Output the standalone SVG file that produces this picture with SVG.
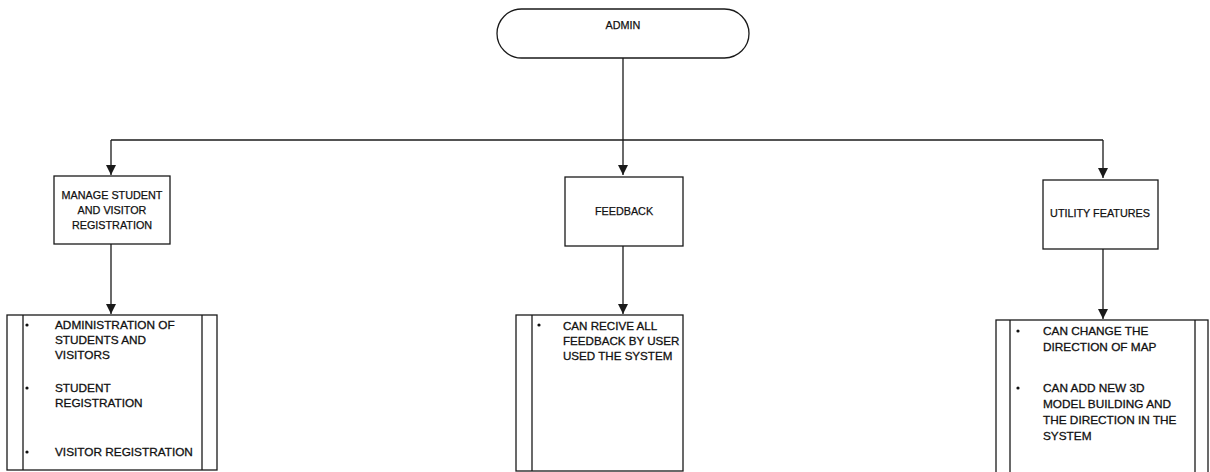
<svg xmlns="http://www.w3.org/2000/svg" width="1210" height="472" viewBox="0 0 1210 472">
<style>
.box{fill:#fff;stroke:#1a1a1a;stroke-width:1.3}
.ln{fill:none;stroke:#1a1a1a;stroke-width:1.3}
.h{font-family:"Liberation Sans",Arial,sans-serif;font-size:10.8px;fill:#111;stroke:#111;stroke-width:0.25;text-anchor:middle;dominant-baseline:central}
.t{font-family:"Liberation Sans",Arial,sans-serif;font-size:11.8px;fill:#111;stroke:#111;stroke-width:0.3;dominant-baseline:central}
.m{font-size:11.6px}
.b{fill:#111}
</style>
<defs>
<marker id="a" markerWidth="10" markerHeight="11" refX="10" refY="5" orient="auto" markerUnits="userSpaceOnUse" viewBox="0 0 10 10">
<path d="M0,0 L10,5 L0,10 Z" fill="#1a1a1a"/>
</marker>
</defs>
<g id="connectors">
<path class="ln" d="M623,58 V175" marker-end="url(#a)"/>
<path class="ln" d="M111,140 H1103"/>
<path class="ln" d="M111,140 V175" marker-end="url(#a)"/>
<path class="ln" d="M1103,140 V178" marker-end="url(#a)"/>
<path class="ln" d="M111,244 V314" marker-end="url(#a)"/>
<path class="ln" d="M623,246 V314" marker-end="url(#a)"/>
<path class="ln" d="M1103,249 V319" marker-end="url(#a)"/>
</g>
<g id="admin">
<rect class="box" x="497" y="9" width="252" height="49" rx="24.5" ry="24.5"/>
<text class="h" x="623" y="25">ADMIN</text>
</g>
<g id="manage">
<rect class="box" x="54" y="176" width="116" height="68"/>
<text class="h" x="112" y="195">MANAGE STUDENT</text>
<text class="h" x="112" y="210">AND VISITOR</text>
<text class="h" x="112" y="225">REGISTRATION</text>
</g>
<g id="feedback">
<rect class="box" x="565" y="177" width="118" height="69"/>
<text class="h" x="624" y="211">FEEDBACK</text>
</g>
<g id="utility">
<rect class="box" x="1043" y="180" width="115" height="69"/>
<text class="h" x="1100" y="213">UTILITY FEATURES</text>
</g>
<g id="manage-details">
<rect class="box" x="7" y="315" width="210" height="155"/>
<path class="ln" d="M23,315 V470 M202,315 V470"/>
<circle class="b" cx="27" cy="325" r="1.6"/>
<circle class="b" cx="27" cy="388" r="1.6"/>
<circle class="b" cx="27" cy="452" r="1.6"/>
<text class="t" x="55" y="325">ADMINISTRATION OF</text>
<text class="t" x="55" y="340">STUDENTS AND</text>
<text class="t" x="55" y="355">VISITORS</text>
<text class="t" x="55" y="388">STUDENT</text>
<text class="t" x="55" y="403">REGISTRATION</text>
<text class="t" x="55" y="452">VISITOR REGISTRATION</text>
</g>
<g id="feedback-details">
<rect class="box" x="516" y="315" width="167" height="156"/>
<path class="ln" d="M532,315 V471"/>
<circle class="b" cx="539" cy="325" r="1.6"/>
<text class="t m" x="563" y="325">CAN RECIVE ALL</text>
<text class="t m" x="563" y="340">FEEDBACK BY USER</text>
<text class="t m" x="563" y="355">USED THE SYSTEM</text>
</g>
<g id="utility-details">
<rect class="box" x="996" y="320" width="212" height="160"/>
<path class="ln" d="M1010,320 V472 M1195,320 V472"/>
<circle class="b" cx="1018" cy="331" r="1.6"/>
<circle class="b" cx="1018" cy="388" r="1.6"/>
<text class="t" x="1043" y="331">CAN CHANGE THE</text>
<text class="t" x="1043" y="347">DIRECTION OF MAP</text>
<text class="t" x="1043" y="388">CAN ADD NEW 3D</text>
<text class="t" x="1043" y="404">MODEL BUILDING AND</text>
<text class="t" x="1043" y="420">THE DIRECTION IN THE</text>
<text class="t" x="1043" y="436">SYSTEM</text>
</g>
</svg>
